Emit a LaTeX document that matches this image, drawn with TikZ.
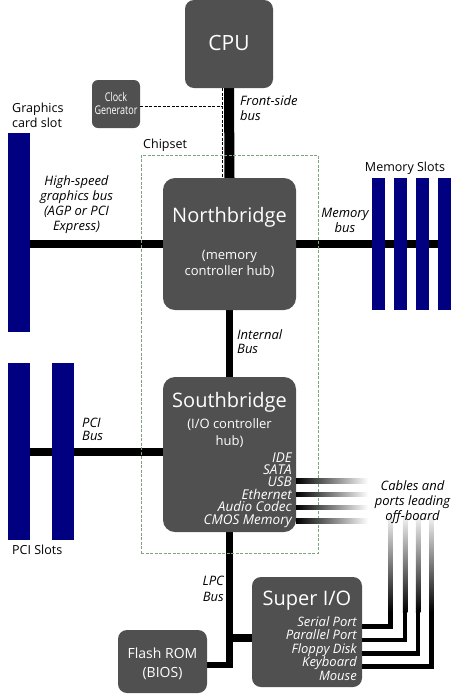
\documentclass[tikz,border=0pt]{standalone}
\usepackage{fontspec}
\setmainfont{Open Sans}
\usepackage{graphicx}
\usepackage{xcolor}
\usetikzlibrary{positioning, calc, backgrounds}

\definecolor{chipgray}{RGB}{80,80,80}
\definecolor{slotblue}{RGB}{0,0,128}
\definecolor{chipsetgreen}{RGB}{125,165,125}

\begin{document}
\begin{tikzpicture}[x=1pt, y=-1pt,
    chip/.style={fill=chipgray, draw=none, rounded corners=9pt, inner sep=0pt},
    chiptitle/.style={text=white, font=\fontsize{20}{22}\selectfont, anchor=base, inner sep=0pt},
    chipsub/.style={text=white, font=\fontsize{13}{16}\selectfont, align=center, anchor=base, inner sep=0pt},
    portlbl/.style={text=white, font=\fontsize{13.5}{14}\selectfont\itshape, anchor=base east, inner sep=0pt},
    slot/.style={fill=slotblue, draw=none, inner sep=0pt},
    lbl/.style={font=\fontsize{12.5}{15}\selectfont, inner sep=0pt},
    buslbl/.style={font=\fontsize{13}{15}\selectfont\itshape, inner sep=0pt},
    bus/.style={line width=8pt},
    cable/.style={line width=4.5pt, line join=miter},
    clkline/.style={line width=0.9pt, dash pattern=on 3pt off 1.5pt},
  ]
\useasboundingbox (0,0) rectangle (455,697);

% chips
\node[chip, minimum width=88pt, minimum height=88pt] (cpu) at (229,44) {};
\node[chiptitle, font=\fontsize{21}{22}\selectfont] (cputxt) at (229,50) {CPU};
\node[chip, rounded corners=6pt, minimum width=48pt, minimum height=48pt] (clk) at (116,104) {};
\node[text=white, font=\fontsize{12}{13}\selectfont, align=center, anchor=base, inner sep=0pt] (clktxt) at (116,114) {\scalebox{0.75}[1]{Clock}\\\scalebox{0.75}[1]{Generator}};

\node[chip, rounded corners=12pt, minimum width=133pt, minimum height=132pt] (nb) at (229.5,244) {};
\node[chiptitle] (nbtxt) at (229.5,222) {Northbridge};
\node[chipsub] (nbsub) at (229.5,275) {(memory\\controller hub)};

\node[chip, rounded corners=12pt, minimum width=133pt, minimum height=155pt] (sb) at (229.5,454.5) {};
\node[chiptitle] (sbtxt) at (229.5,407) {Southbridge};
\node[chipsub, font=\fontsize{13}{17}\selectfont] (sbsub) at (229.5,445) {(I/O controller\\hub)};
\foreach \port [count=\i] in {IDE,SATA,USB,Ethernet,Audio Codec,CMOS Memory}
  \node[portlbl] (sbport\i) at (292,449.6+12.4*\i) {\port};

\node[chip, minimum width=110pt, minimum height=110pt] (sio) at (307,632) {};
\node[chiptitle] (siotxt) at (307,605) {Super I/O};
\foreach \port [count=\i] in {Serial Port,Parallel Port,Floppy Disk,Keyboard,Mouse}
  \node[portlbl, font=\fontsize{13}{14}\selectfont\itshape] (sioport\i) at (357,612.5+13.5*\i) {\port};

\node[chip, minimum width=89pt, minimum height=63pt] (rom) at (162.5,661.5) {};
\node[chipsub, font=\fontsize{14}{19}\selectfont] (romtxt) at (162.5,677) {Flash ROM\\(BIOS)};

% slots
\node[slot, minimum width=22pt, minimum height=199pt] (gslot) at (19,232.5) {};
\foreach \i in {1,...,4}
  \node[slot, minimum width=13pt, minimum height=132pt] (mem\i) at (356+22*\i,244) {};
\node[slot, minimum width=22pt, minimum height=177pt] (pci1) at (19,451.5) {};
\node[slot, minimum width=22pt, minimum height=177pt] (pci2) at (63,451.5) {};

% buses behind everything
\begin{scope}[on background layer]
\draw[bus, line width=10pt] (cpu.south) -- (nb.north);
\draw[bus] (gslot.east |- nb.west) -- (nb.west);
\draw[bus] (nb.east) -- (mem4.center |- nb.east);
\draw[bus, line width=7pt] (nb.south) -- (sb.north);
\draw[bus] (pci1.center |- 0,452) -- (sb.west |- 0,452);
\draw[bus, line width=6.5pt, line join=miter] (sb.south) |- ($(rom.east)+(0,3.5)$);
\coordinate (lpcjoin) at (229.5,638);
\draw[bus] (lpcjoin) -- (sio.west |- lpcjoin);
\end{scope}

% clock lines
\coordinate (fsbedge) at (222,106);
\draw[clkline] (clk.east |- fsbedge) -- (fsbedge);
\draw[clkline] (cpu.south -| fsbedge) -- (nb.north -| fsbedge);

% chipset outline
\node[draw=chipsetgreen, line width=0.9pt, dash pattern=on 3pt off 1.5pt, minimum width=177pt, minimum height=398pt, inner sep=0pt] (chipset) at (229.5,354) {};

% cables leaving the board
\foreach \y in {481,494.5,507.5,521}
  \shade[left color=black, right color=white] (sb.east |- 0,\y-2.25) rectangle ++(72,4.5);
\foreach \y/\x in {626.5/390.5, 640/405, 653.5/418, 666.5/431.5} {
  \draw[cable] (sio.east |- 0,\y) -| (\x,610);
  \shade[top color=white, bottom color=black] (\x-2.25,512) rectangle (\x+2.25,612);
}

% labels
\node[lbl, align=left, anchor=base west] (gslotlbl) at (12,127) {Graphics\\card slot};
\node[lbl, anchor=base west] (chipsetlbl) at (143,148) {Chipset};
\node[buslbl, align=left, anchor=base west] (fsblbl) at (240,120) {Front-side\\bus};
\node[buslbl, align=center, anchor=base] (agplbl) at (76.5,230) {High-speed\\graphics bus\\(AGP or PCI\\Express)};
\node[lbl, anchor=base] (memlbl) at (405,171) {Memory Slots};
\node[buslbl, font=\fontsize{13}{12.5}\selectfont\itshape, align=center, anchor=base] (membuslbl) at (345,232) {Memory\\bus};
\node[buslbl, font=\fontsize{13}{14}\selectfont\itshape, align=left, anchor=base west] (intlbl) at (237,353) {Internal\\Bus};
\node[buslbl, font=\fontsize{13}{13}\selectfont\itshape, align=left, anchor=base west] (pcilbl) at (82,440) {PCI\\Bus};
\node[lbl, anchor=base west] (pcislotlbl) at (12,554) {PCI Slots};
\node[buslbl, align=center, anchor=base] (cablelbl) at (412.5,520) {Cables and\\ports leading\\off-board};
\node[buslbl, font=\fontsize{13}{16}\selectfont\itshape, align=right, anchor=base east] (lpclbl) at (224,601) {LPC\\Bus};
\end{tikzpicture}
\end{document}
